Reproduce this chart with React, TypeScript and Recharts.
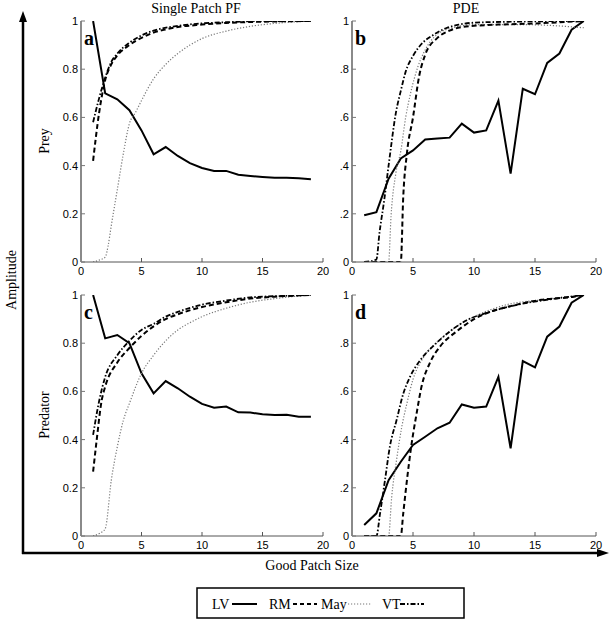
import React from 'react';
import { LineChart, Line, XAxis, YAxis } from 'recharts';

type Pt = [number, number];

// Good patch sizes (x values of the LV series)
const GOOD_PATCH_SIZE = [1, 2, 3, 4, 5, 6, 7, 8, 9, 10, 11, 12, 13, 14, 15, 16, 17, 18, 19];
const X_TICKS = [0, 5, 10, 15, 20];
const X_TOP_TICKS = [5, 10, 15];
const Y_TICKS = [0, 0.2, 0.4, 0.6, 0.8, 1];
const COLUMN_TITLES = ['Single Patch PF', 'PDE'];
const ROW_TITLES = ['Prey', 'Predator'];
const LEGEND_NAMES = ['LV', 'RM', 'May', 'VT'];

// Panel a: Prey, Single Patch PF
const preyPF_LV = [1.0, 0.70, 0.675, 0.63, 0.546, 0.447, 0.477, 0.44, 0.41, 0.39, 0.378, 0.378, 0.362, 0.357, 0.353, 0.35, 0.35, 0.347, 0.343];
const preyPF_RM: Pt[] = [[1, 0.42], [1.5, 0.62], [2, 0.755], [2.5, 0.82], [3, 0.857], [4, 0.9], [5, 0.93], [6, 0.952], [7, 0.965], [8, 0.975], [10, 0.985], [12, 0.992], [15, 0.997], [19, 1.0]];
const preyPF_May: Pt[] = [[1, 0], [1.5, 0.008], [2, 0.02], [2.25, 0.07], [2.5, 0.15], [3, 0.3], [3.5, 0.45], [4, 0.574], [4.5, 0.62], [5, 0.67], [6, 0.76], [7, 0.82], [8, 0.865], [9, 0.9], [10, 0.927], [12, 0.958], [14, 0.978], [16, 0.99], [19, 1]];
const preyPF_VT: Pt[] = [[1, 0.58], [1.5, 0.68], [2, 0.765], [2.5, 0.83], [3, 0.865], [4, 0.91], [5, 0.94], [6, 0.96], [8, 0.98], [10, 0.99], [12, 0.995], [15, 1], [19, 1]];

// Panel b: Prey, PDE
const preyPDE_LV = [0.194, 0.207, 0.346, 0.43, 0.463, 0.508, 0.512, 0.516, 0.574, 0.537, 0.546, 0.67, 0.367, 0.719, 0.696, 0.826, 0.865, 0.964, 1.0];
const preyPDE_RM: Pt[] = [[1, 0], [4, 0], [4.2, 0.27], [4.5, 0.45], [5, 0.6], [5.5, 0.77], [6, 0.86], [7, 0.93], [8, 0.96], [9, 0.975], [10, 0.98], [12, 0.985], [15, 0.99], [19, 1]];
const preyPDE_May: Pt[] = [[1, 0], [3, 0], [3.2, 0.19], [3.6, 0.37], [4, 0.46], [4.4, 0.6], [4.8, 0.7], [5.4, 0.81], [6, 0.88], [7, 0.945], [8.5, 0.975], [10, 0.985], [14, 0.985], [19, 0.972]];
const preyPDE_VT: Pt[] = [[1, 0], [2, 0.01], [2.25, 0.12], [2.65, 0.26], [3.05, 0.42], [3.6, 0.62], [4, 0.71], [4.4, 0.79], [5, 0.855], [5.8, 0.91], [6.6, 0.94], [7.7, 0.97], [8.75, 0.985], [10, 0.993], [13, 0.997], [19, 1]];

// Panel c: Predator, Single Patch PF
const predPF_LV = [1.0, 0.82, 0.834, 0.80, 0.675, 0.592, 0.643, 0.613, 0.578, 0.548, 0.532, 0.537, 0.513, 0.512, 0.505, 0.502, 0.503, 0.495, 0.495];
const predPF_RM: Pt[] = [[1, 0.267], [1.3, 0.4], [1.7, 0.56], [2, 0.62], [3, 0.72], [4, 0.78], [5, 0.83], [6, 0.87], [7, 0.9], [8, 0.92], [10, 0.95], [12, 0.97], [14, 0.985], [16, 0.993], [19, 1]];
const predPF_May: Pt[] = [[1, 0], [1.5, 0.01], [2, 0.03], [2.5, 0.23], [3, 0.37], [3.5, 0.48], [4, 0.55], [5, 0.675], [6, 0.75], [7, 0.81], [8, 0.855], [9, 0.885], [10, 0.91], [12, 0.945], [14, 0.97], [16, 0.985], [19, 1]];
const predPF_VT: Pt[] = [[1, 0.42], [1.5, 0.56], [2, 0.66], [3, 0.75], [4, 0.81], [5, 0.855], [6, 0.88], [7, 0.91], [8, 0.93], [10, 0.96], [12, 0.977], [14, 0.99], [16, 0.995], [19, 1]];

// Panel d: Predator, PDE
const predPDE_LV = [0.046, 0.094, 0.232, 0.308, 0.378, 0.412, 0.447, 0.47, 0.546, 0.532, 0.537, 0.66, 0.364, 0.726, 0.70, 0.827, 0.869, 0.968, 1.0];
const predPDE_RM: Pt[] = [[1, 0], [4, 0], [4.2, 0.094], [4.5, 0.23], [4.85, 0.37], [5.3, 0.51], [5.7, 0.62], [6.4, 0.72], [7.2, 0.785], [8.6, 0.85], [10, 0.9], [11.3, 0.93], [12.7, 0.95], [15.5, 0.98], [18.2, 0.993], [19, 1]];
const predPDE_May: Pt[] = [[1, 0], [3, 0], [3.25, 0.16], [3.65, 0.315], [4.07, 0.45], [4.5, 0.55], [5, 0.65], [5.85, 0.74], [7.2, 0.815], [8.6, 0.87], [10, 0.91], [12.7, 0.96], [15.5, 0.98], [19, 1]];
const predPDE_VT: Pt[] = [[1, 0], [2, 0], [2.3, 0.094], [2.7, 0.23], [3.1, 0.37], [3.65, 0.48], [4.2, 0.59], [4.75, 0.66], [5.6, 0.73], [6.7, 0.79], [8.05, 0.85], [9.4, 0.895], [11.3, 0.93], [14.1, 0.965], [16.8, 0.986], [19, 1]];

const SANS = '"Liberation Sans", Arial, Helvetica, sans-serif';
const SERIF = '"Liberation Serif", "Times New Roman", Times, serif';

const STYLES = {
  LV: { stroke: '#000', strokeWidth: 2, dash: undefined as string | undefined },
  RM: { stroke: '#000', strokeWidth: 2, dash: '5 3' },
  May: { stroke: '#777', strokeWidth: 1.2, dash: '1.2 1.8' },
  VT: { stroke: '#000', strokeWidth: 1.8, dash: '5 2 1.5 2' },
};

const toPts = (p: Pt[]) => p.map(([x, y]) => ({ x, y }));
const lvPts = (vals: number[]) => GOOD_PATCH_SIZE.map((x, i) => ({ x, y: vals[i] }));

type PanelProps = {
  left: number; top: number; w: number; h: number;
  lv: number[]; rm: Pt[]; may: Pt[]; vt: Pt[];
  rightCol: boolean;
};

function Panel({ left, top, w, h, lv, rm, may, vt, rightCol }: PanelProps) {
  const ml = 40, mt = 20, mr = 20, mb = 30;
  const fmtY = (v: number) => {
    if (v === 0) return '0';
    if (v === 1) return '1';
    const s = String(v);
    return rightCol ? s.replace(/^0/, '') : s;
  };
  const series = [
    { key: 'LV', data: lvPts(lv), type: 'linear' as const },
    { key: 'May', data: toPts(may), type: 'monotone' as const },
    { key: 'RM', data: toPts(rm), type: 'monotone' as const },
    { key: 'VT', data: toPts(vt), type: 'monotone' as const },
  ];
  return (
    <div style={{ position: 'absolute', left: left - ml, top: top - mt }}>
      <LineChart width={w + ml + mr} height={h + mt + mb} margin={{ top: mt, left: 10, right: mr, bottom: mb - 20 }}>
        <XAxis
          xAxisId="b" type="number" dataKey="x" domain={[0, 20]} ticks={X_TICKS} height={20}
          allowDataOverflow interval={0}
          axisLine={{ stroke: '#555', strokeWidth: 1 }}
          tickLine={{ stroke: '#555' }} tickSize={-4} tickMargin={9}
          tick={{ fontSize: 11, fontFamily: SANS, fill: '#000' }}
        />
        <XAxis
          xAxisId="t" orientation="top" type="number" dataKey="x" domain={[0, 20]} ticks={X_TOP_TICKS} height={0}
          allowDataOverflow interval={0}
          axisLine={{ stroke: '#000', strokeWidth: 1 }}
          tickLine={{ stroke: '#555' }} tickSize={-4} tick={false}
        />
        <YAxis
          yAxisId="l" type="number" domain={[0, 1]} ticks={Y_TICKS} width={30} interval={0}
          allowDataOverflow
          axisLine={{ stroke: '#8a8a8a', strokeWidth: 2 }}
          tickLine={{ stroke: '#777' }} tickSize={-4} tickMargin={7}
          tickFormatter={fmtY}
          tick={{ fontSize: 11, fontFamily: SANS, fill: '#000' }}
        />
        <YAxis
          yAxisId="r" orientation="right" type="number" domain={[0, 1]} width={0}
          allowDataOverflow
          axisLine={{ stroke: '#000', strokeWidth: 1 }}
          tickLine={false} tick={false}
        />
        {series.map((s) => {
          const st = STYLES[s.key as keyof typeof STYLES];
          return (
            <Line
              key={s.key}
              xAxisId="b" yAxisId="l"
              data={s.data} dataKey="y" type={s.type}
              stroke={st.stroke} strokeWidth={st.strokeWidth} strokeDasharray={st.dash}
              dot={false} activeDot={false} isAnimationActive={false}
            />
          );
        })}
      </LineChart>
    </div>
  );
}

export default function App() {
  const L = { x0: 81, x1: 323 };
  const R = { x0: 352, x1: 596 };
  const T = { y0: 21, y1: 262 };
  const B = { y0: 295, y1: 536 };
  const panels = [
    { col: L, row: T, lv: preyPF_LV, rm: preyPF_RM, may: preyPF_May, vt: preyPF_VT, right: false, letter: 'a' },
    { col: R, row: T, lv: preyPDE_LV, rm: preyPDE_RM, may: preyPDE_May, vt: preyPDE_VT, right: true, letter: 'b' },
    { col: L, row: B, lv: predPF_LV, rm: predPF_RM, may: predPF_May, vt: predPF_VT, right: false, letter: 'c' },
    { col: R, row: B, lv: predPDE_LV, rm: predPDE_RM, may: predPDE_May, vt: predPDE_VT, right: true, letter: 'd' },
  ];
  const legendY = 604;
  return (
    <div style={{ position: 'absolute', left: 0, top: 0, width: 610, height: 622, background: '#fff', overflow: 'hidden' }}>
      {panels.map((p, i) => (
        <Panel
          key={i}
          left={p.col.x0} top={p.row.y0} w={p.col.x1 - p.col.x0} h={p.row.y1 - p.row.y0}
          lv={p.lv} rm={p.rm} may={p.may} vt={p.vt} rightCol={p.right}
        />
      ))}
      <svg width={610} height={622} style={{ position: 'absolute', left: 0, top: 0, pointerEvents: 'none' }}>
        {panels.map((p, i) => (
          <text key={i} x={p.col.x0 + 3} y={p.row.y0 + 24} fontFamily={SERIF} fontWeight="bold" fontSize={20} fill="#000">
            {p.letter}
          </text>
        ))}
        <text x={196} y={13} textAnchor="middle" fontFamily={SERIF} fontSize={14} fill="#000">{COLUMN_TITLES[0]}</text>
        <text x={466} y={13} textAnchor="middle" fontFamily={SERIF} fontSize={14} fill="#000">{COLUMN_TITLES[1]}</text>
        <text transform="translate(49,141) rotate(-90)" textAnchor="middle" fontFamily={SERIF} fontSize={14} fill="#000">{ROW_TITLES[0]}</text>
        <text transform="translate(49,415) rotate(-90)" textAnchor="middle" fontFamily={SERIF} fontSize={14} fill="#000">{ROW_TITLES[1]}</text>
        <text transform="translate(16,280) rotate(-90)" textAnchor="middle" fontFamily={SERIF} fontSize={14} fill="#000">Amplitude</text>
        <text x={312} y={570} textAnchor="middle" fontFamily={SERIF} fontSize={14} fill="#000">Good Patch Size</text>
        {/* big axes arrows */}
        <line x1={23} y1={554} x2={23} y2={19} stroke="#000" strokeWidth={2.5} />
        <polygon points="23,11 19,22 27,22" fill="#000" />
        <line x1={22} y1={553} x2={598} y2={553} stroke="#000" strokeWidth={2.5} />
        <polygon points="609,553 597,549 597,557" fill="#000" />
        {/* legend */}
        <rect x={197} y={588} width={267} height={30} fill="#fff" stroke="#000" strokeWidth={1.5} />
        <text x={212} y={legendY + 5} fontFamily={SERIF} fontSize={14} fill="#000">{LEGEND_NAMES[0]}</text>
        <line x1={232} y1={legendY} x2={257} y2={legendY} stroke="#000" strokeWidth={2} />
        <text x={269} y={legendY + 5} fontFamily={SERIF} fontSize={14} fill="#000">{LEGEND_NAMES[1]}</text>
        <line x1={293} y1={legendY} x2={317} y2={legendY} stroke="#000" strokeWidth={2} strokeDasharray="4 3" />
        <text x={321} y={legendY + 5} fontFamily={SERIF} fontSize={14} fill="#000">{LEGEND_NAMES[2]}</text>
        <line x1={348} y1={legendY} x2={372} y2={legendY} stroke="#777" strokeWidth={1.2} strokeDasharray="1.2 1.8" />
        <text x={382} y={legendY + 5} fontFamily={SERIF} fontSize={14} fill="#000">{LEGEND_NAMES[3]}</text>
        <line x1={400} y1={legendY} x2={424} y2={legendY} stroke="#000" strokeWidth={1.8} strokeDasharray="5 2 1.5 2" />
      </svg>
    </div>
  );
}
